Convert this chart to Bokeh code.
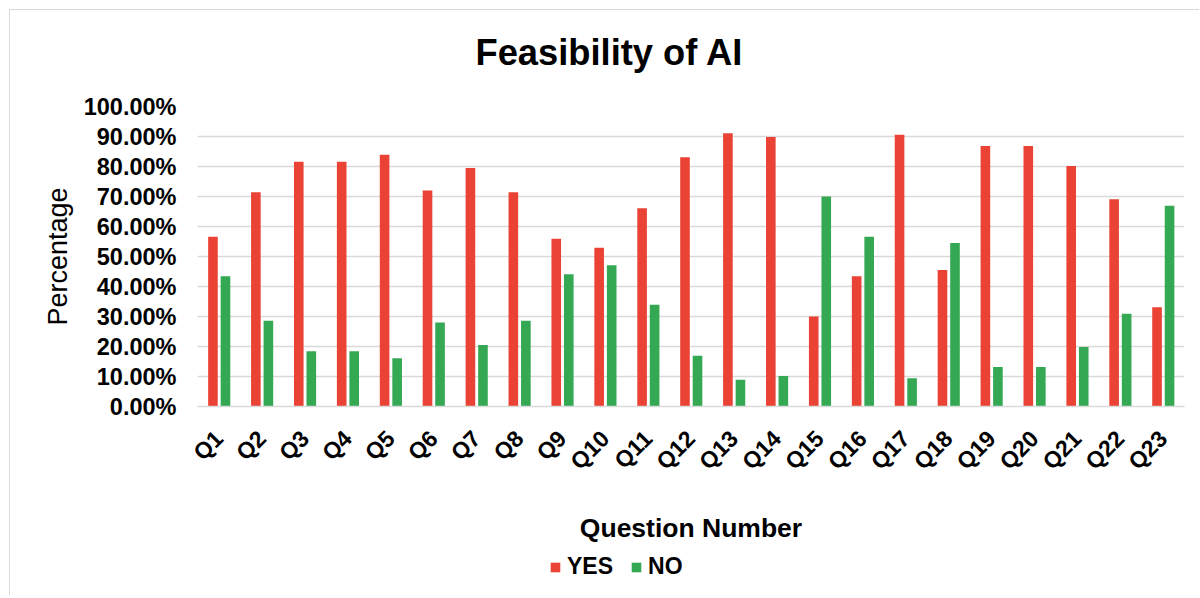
import math
from bokeh.plotting import figure
from bokeh.layouts import column
from bokeh.models import (ColumnDataSource, FactorRange, Range1d, NumeralTickFormatter,
                          Legend, LegendItem, FixedTicker, Label)
from bokeh.transform import dodge
from bokeh.embed import file_html
from bokeh.resources import INLINE

# ---- data ----
questions = ["Q1", "Q2", "Q3", "Q4", "Q5", "Q6", "Q7", "Q8", "Q9", "Q10", "Q11", "Q12",
             "Q13", "Q14", "Q15", "Q16", "Q17", "Q18", "Q19", "Q20", "Q21", "Q22", "Q23"]
yes_pct = [56.6, 71.4, 81.6, 81.6, 83.9, 72.0, 79.5, 71.4, 55.9, 52.9, 66.1, 83.1,
           91.1, 89.8, 30.0, 43.4, 90.6, 45.5, 86.8, 86.8, 80.2, 69.1, 33.1]
no_pct = [43.4, 28.6, 18.4, 18.4, 16.1, 28.0, 20.5, 28.6, 44.1, 47.1, 33.9, 16.9,
          8.9, 10.2, 70.0, 56.6, 9.4, 54.5, 13.2, 13.2, 19.8, 30.9, 66.9]
y_ticks = [0.0, 0.1, 0.2, 0.3, 0.4, 0.5, 0.6, 0.7, 0.8, 0.9, 1.0]
series_names = ["YES", "NO"]
chart_title = "Feasibility of AI"

RED = "#EA4335"
GREEN = "#34A853"
FONT = "Liberation Sans"
W = 1189


def strip(height):
    f = figure(width=W, height=height, x_range=Range1d(0, 1), y_range=Range1d(0, 1),
               output_backend="svg", toolbar_location=None, title=None,
               x_axis_location=None, y_axis_location=None,
               min_border_left=0, min_border_right=0, min_border_top=0, min_border_bottom=0)
    f.outline_line_color = None
    f.xgrid.grid_line_color = None
    f.ygrid.grid_line_color = None
    f.border_fill_color = "white"
    f.background_fill_color = "white"
    return f


# ---- title strip ----
tf = strip(70)
tf.add_layout(Label(x=278, y=28, x_units="screen", y_units="screen", text=chart_title,
                    text_font=FONT, text_font_size="36.3px", text_font_style="bold",
                    text_color="black", text_align="left", text_baseline="alphabetic"))

# ---- main chart ----
src = ColumnDataSource(dict(
    q=questions,
    yes=[v / 100 for v in yes_pct],
    no=[v / 100 for v in no_pct],
))

p = figure(width=W, height=470, title=None,
           x_range=FactorRange(*questions), y_range=Range1d(0, 1.0),
           output_backend="svg", toolbar_location=None,
           min_border_left=187, min_border_right=15,
           min_border_top=26, min_border_bottom=144)
p.outline_line_color = None
p.background_fill_color = "white"
p.border_fill_color = "white"

r_yes = p.vbar(x=dodge("q", -0.14, range=p.x_range), top="yes", width=0.224,
               source=src, fill_color=RED, line_color=None)
r_no = p.vbar(x=dodge("q", 0.152, range=p.x_range), top="no", width=0.224,
              source=src, fill_color=GREEN, line_color=None)

# grid
p.xgrid.grid_line_color = None
p.ygrid.grid_line_color = "#d9d9d9"
p.ygrid.grid_line_width = 1.5
p.ygrid.ticker = FixedTicker(ticks=y_ticks)

# y axis
p.yaxis.ticker = FixedTicker(ticks=y_ticks)
p.yaxis.formatter = NumeralTickFormatter(format="0.00%")
p.yaxis.axis_line_color = None
p.yaxis.major_tick_line_color = None
p.yaxis.minor_tick_line_color = None
p.yaxis.major_label_text_font = FONT
p.yaxis.major_label_text_font_size = "23.5px"
p.yaxis.major_label_text_font_style = "bold"
p.yaxis.major_label_text_color = "black"
p.yaxis.major_label_standoff = 15
p.yaxis.axis_label = "Percentage"
p.yaxis.axis_label_text_font = FONT
p.yaxis.axis_label_text_font_size = "27px"
p.yaxis.axis_label_text_font_style = "normal"
p.yaxis.axis_label_text_color = "black"
p.yaxis.axis_label_standoff = 8

# x axis
p.xaxis.axis_line_color = "#d9d9d9"
p.xaxis.axis_line_width = 1.5
p.xaxis.major_tick_line_color = None
p.xaxis.minor_tick_line_color = None
p.xaxis.major_label_orientation = math.pi / 4
p.xaxis.major_label_text_font = FONT
p.xaxis.major_label_text_font_size = "23px"
p.xaxis.major_label_text_font_style = "bold"
p.xaxis.major_label_text_color = "black"
p.xaxis.major_label_standoff = 22
p.xaxis.axis_label = "Question Number"
p.xaxis.axis_label_text_font = FONT
p.xaxis.axis_label_text_font_size = "26.5px"
p.xaxis.axis_label_text_font_style = "bold"
p.xaxis.axis_label_text_color = "black"
p.xaxis.axis_label_standoff = 26

# ---- legend strip (separate small figure so the legend is not clipped) ----
lf = strip(45)
# zero-height helper bars: they only provide the legend swatches
helper = ColumnDataSource(dict(x=[0.5], top=[0.0]))
l_yes = lf.vbar(x="x", top="top", width=0.01, source=helper, fill_color=RED, line_color=None)
l_no = lf.vbar(x="x", top="top", width=0.01, source=helper, fill_color=GREEN, line_color=None)

legend = Legend(items=[LegendItem(label=series_names[0], renderers=[l_yes]),
                       LegendItem(label=series_names[1], renderers=[l_no])],
                orientation="horizontal", location=(352, 15))
legend.label_text_font = FONT
legend.label_text_font_size = "23px"
legend.label_text_font_style = "bold"
legend.label_text_color = "black"
legend.glyph_width = 12
legend.glyph_height = 12
legend.label_standoff = 6
legend.spacing = 17
legend.padding = 0
legend.margin = 0
legend.border_line_color = None
legend.background_fill_alpha = 0
lf.add_layout(legend, "center")

layout = column(tf, p, lf, spacing=0,
                styles={"margin-left": "9px", "margin-top": "9px",
                        "border-left": "1px solid #d9d9d9",
                        "border-top": "1px solid #d9d9d9"})

open("out.html", "w").write(file_html(layout, INLINE))
